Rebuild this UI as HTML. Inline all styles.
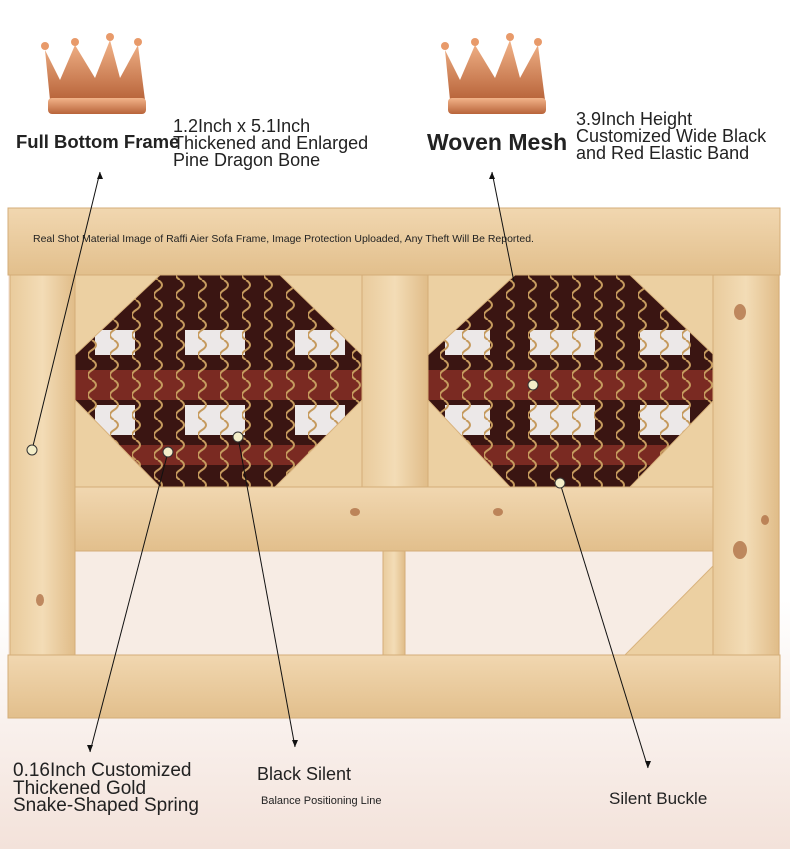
<!DOCTYPE html>
<html><head><meta charset="utf-8"><style>
body{margin:0;width:790px;height:849px;overflow:hidden;font-family:"Liberation Sans",sans-serif;background:linear-gradient(#fff 0,#fff 600px,#f3e2da 849px);}
svg{position:absolute;left:0;top:0}
.t{position:absolute;color:#222;white-space:nowrap}
</style></head><body>
<svg width="790" height="849">
<defs>
<linearGradient id="w" x1="0" y1="0" x2="0" y2="1"><stop offset="0" stop-color="#f1d7b0"/><stop offset="1" stop-color="#e2bf8c"/></linearGradient>
<linearGradient id="wv" x1="0" y1="0" x2="1" y2="0"><stop offset="0" stop-color="#e9cb9c"/><stop offset="0.5" stop-color="#f3dcb6"/><stop offset="1" stop-color="#e0bc88"/></linearGradient>
<linearGradient id="cr" x1="0" y1="0" x2="0" y2="1"><stop offset="0" stop-color="#f2b48a"/><stop offset="1" stop-color="#b8643a"/></linearGradient>
<pattern id="sp" width="22" height="20" patternUnits="userSpaceOnUse"><path d="M4 0 q8 5 0 10 q-8 5 0 10" stroke="#c59a5e" stroke-width="2" fill="none"/></pattern>
</defs>
<g fill="url(#cr)">
<path d="M45 50 L60 80 L75 45 L95 78 L110 40 L120 78 L138 45 L145 100 L50 100 Z"/>
<rect x="48" y="98" width="98" height="16" rx="4"/>
<path d="M445 50 L460 80 L475 45 L495 78 L510 40 L520 78 L538 45 L545 100 L450 100 Z"/>
<rect x="448" y="98" width="98" height="16" rx="4"/>
</g>
<g fill="#e89a6a"><circle cx="45" cy="46" r="4"/><circle cx="75" cy="42" r="4"/><circle cx="110" cy="37" r="4"/><circle cx="138" cy="42" r="4"/><circle cx="445" cy="46" r="4"/><circle cx="475" cy="42" r="4"/><circle cx="510" cy="37" r="4"/><circle cx="538" cy="42" r="4"/></g>
<rect x="8" y="208" width="772" height="510" fill="#f7ece4"/>
<rect x="75" y="275" width="287" height="212" fill="#3a1512"/>
<rect x="428" y="275" width="286" height="212" fill="#3a1512"/>
<g fill="#7a2a22"><rect x="75" y="370" width="287" height="30"/><rect x="428" y="370" width="286" height="30"/><rect x="75" y="445" width="287" height="20"/><rect x="428" y="445" width="286" height="20"/></g>
<g fill="#ece8e8"><rect x="95" y="330" width="40" height="25"/><rect x="185" y="330" width="60" height="25"/><rect x="295" y="330" width="50" height="25"/><rect x="95" y="405" width="40" height="30"/><rect x="185" y="405" width="60" height="30"/><rect x="295" y="405" width="50" height="30"/>
<rect x="445" y="330" width="45" height="25"/><rect x="530" y="330" width="65" height="25"/><rect x="640" y="330" width="50" height="25"/><rect x="445" y="405" width="45" height="30"/><rect x="530" y="405" width="65" height="30"/><rect x="640" y="405" width="50" height="30"/></g>
<rect x="75" y="275" width="287" height="212" fill="url(#sp)"/>
<rect x="428" y="275" width="286" height="212" fill="url(#sp)"/>
<g fill="#ecd0a2" stroke="#d9b37e">
<polygon points="75,275 160,275 75,355"/><polygon points="362,275 280,275 362,355"/><polygon points="75,487 75,400 160,487"/><polygon points="362,487 362,400 275,487"/>
<polygon points="428,275 515,275 428,355"/><polygon points="714,275 630,275 714,355"/><polygon points="428,487 428,400 510,487"/><polygon points="714,487 714,400 630,487"/>
<polygon points="714,655 714,565 625,655"/>
</g>
<g stroke="#d4ad78">
<rect x="8" y="208" width="772" height="67" fill="url(#w)"/>
<rect x="10" y="275" width="65" height="382" fill="url(#wv)"/>
<rect x="362" y="275" width="66" height="212" fill="url(#wv)"/>
<rect x="713" y="275" width="66" height="382" fill="url(#wv)"/>
<rect x="75" y="487" width="638" height="64" fill="url(#w)"/>
<rect x="383" y="551" width="22" height="104" fill="url(#wv)"/>
<rect x="8" y="655" width="772" height="63" fill="url(#w)"/>
</g>
<g fill="#a8653a" opacity=".7"><ellipse cx="740" cy="312" rx="6" ry="8"/><ellipse cx="740" cy="550" rx="7" ry="9"/><ellipse cx="498" cy="512" rx="5" ry="4"/><ellipse cx="355" cy="512" rx="5" ry="4"/><ellipse cx="765" cy="520" rx="4" ry="5"/><ellipse cx="40" cy="600" rx="4" ry="6"/></g>
<g stroke="#111" stroke-width="1" fill="none">
<line x1="100" y1="172" x2="32" y2="450"/>
<line x1="492" y1="172" x2="514" y2="282"/>
<line x1="168" y1="452" x2="90" y2="752"/>
<line x1="238" y1="437" x2="295" y2="747"/>
<line x1="560" y1="483" x2="648" y2="768"/>
</g>
<g fill="#111"><path d="M100 172 l-3 7 h6z"/><path d="M492 172 l-3 7 h6z"/><path d="M90 752 l-3-7 h6z"/><path d="M295 747 l-3-7 h6z"/><path d="M648 768 l-3-7 h6z"/></g>
<g fill="#f3edc8" stroke="#333"><circle cx="32" cy="450" r="5"/><circle cx="168" cy="452" r="5"/><circle cx="238" cy="437" r="5"/><circle cx="533" cy="385" r="5"/><circle cx="560" cy="483" r="5"/></g>
</svg>
<div class="t" style="left:16px;top:131px;font-weight:bold;font-size:18.5px">Full Bottom Frame</div>
<div class="t" style="left:173px;top:118px;font-size:18px;line-height:17px">1.2Inch x 5.1Inch<br>Thickened and Enlarged<br>Pine Dragon Bone</div>
<div class="t" style="left:427px;top:129px;font-weight:bold;font-size:23px">Woven Mesh</div>
<div class="t" style="left:576px;top:111px;font-size:18px;line-height:17px">3.9Inch Height<br>Customized Wide Black<br>and Red Elastic Band</div>
<div class="t" style="left:33px;top:233px;font-size:10.5px;color:#222">Real Shot Material Image of Raffi Aier Sofa Frame, Image Protection Uploaded, Any Theft Will Be Reported.</div>
<div class="t" style="left:13px;top:762px;font-size:19px;line-height:17.5px">0.16Inch Customized<br>Thickened Gold<br>Snake-Shaped Spring</div>
<div class="t" style="left:257px;top:764px;font-size:18px">Black Silent</div>
<div class="t" style="left:261px;top:795px;font-size:11px">Balance Positioning Line</div>
<div class="t" style="left:609px;top:789px;font-size:17px">Silent Buckle</div>
</body></html>
